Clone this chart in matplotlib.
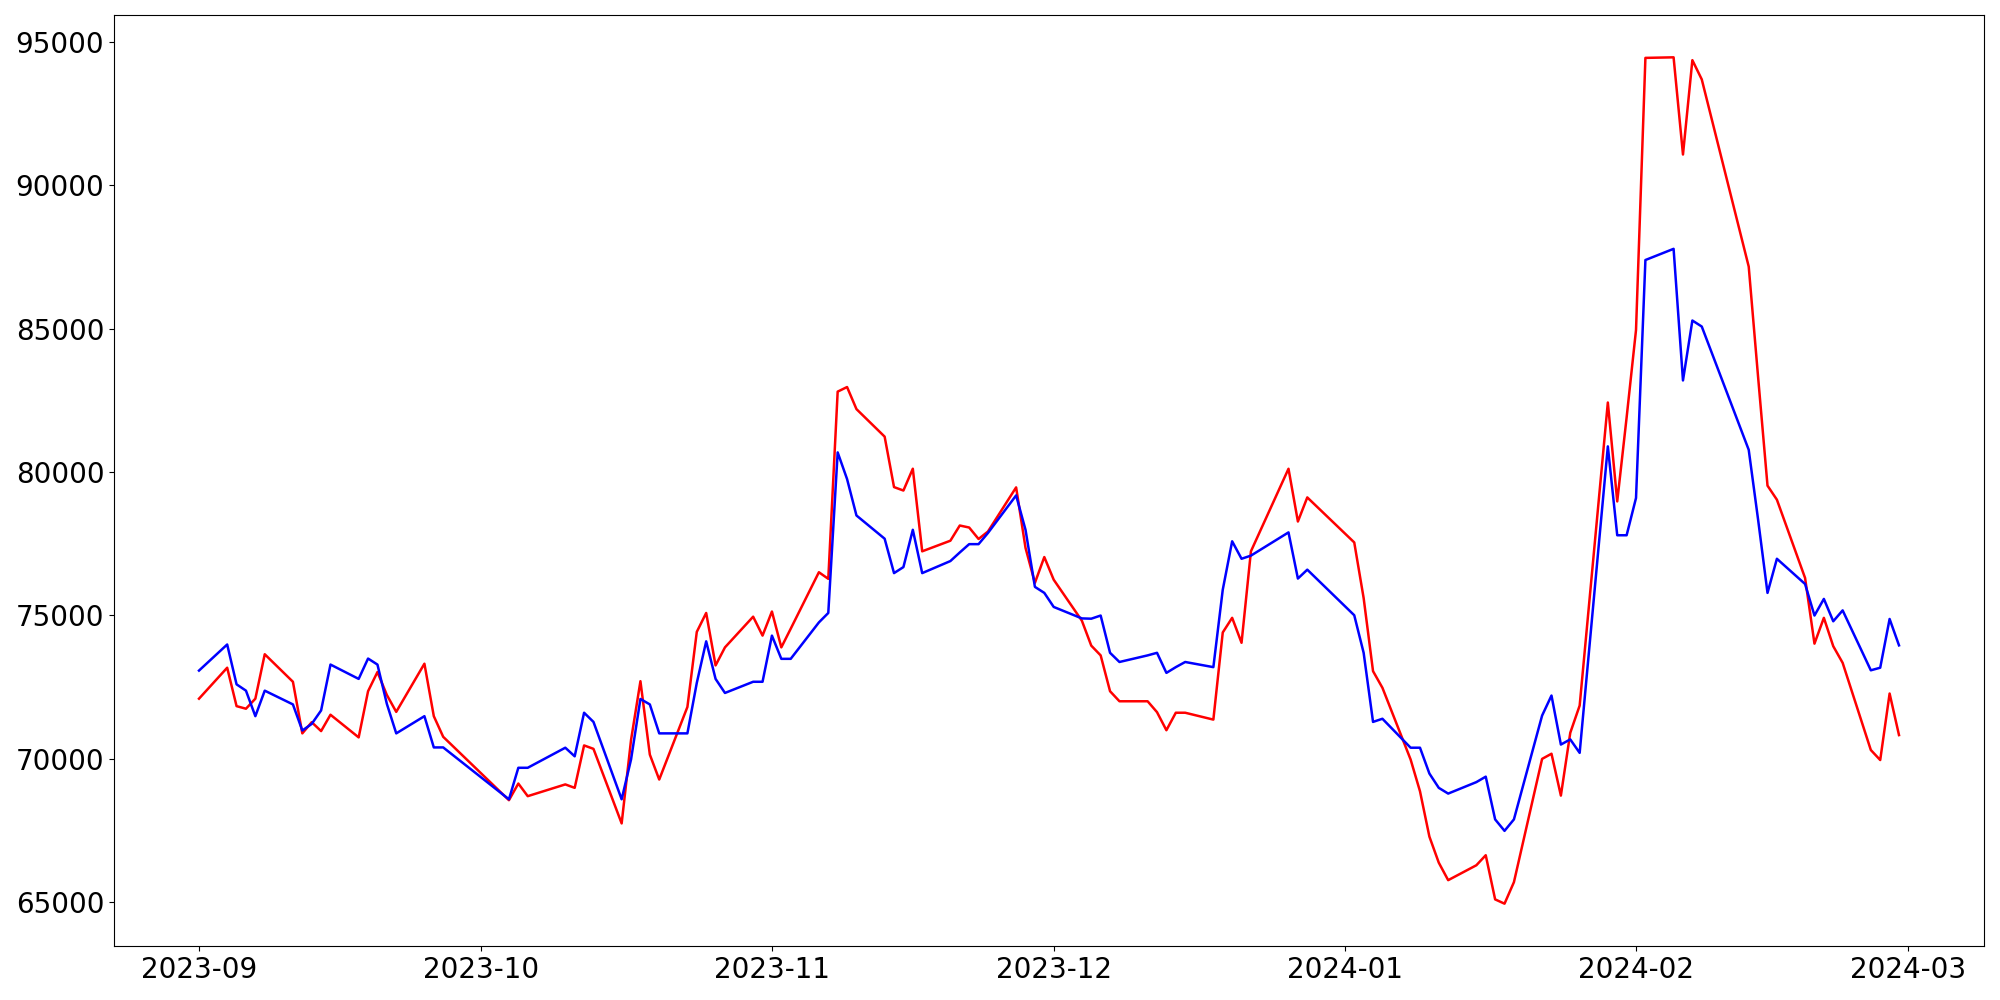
import matplotlib
matplotlib.use("Agg")
import matplotlib.pyplot as plt
import pandas as pd

# trading calendar (weekdays minus market holidays)
START = "2023-09-01"
END = "2024-02-29"
HOLIDAYS = [
    "2023-09-28", "2023-09-29", "2023-10-02", "2023-10-03", "2023-10-09",
    "2023-12-25", "2023-12-29", "2024-01-01", "2024-02-09", "2024-02-12",
]

# red series, one value per trading day
red_values = [
    # Sep
    72090, 73170, 71830, 71740, 72090, 73640, 72680, 70880, 71270, 70960,
    71530, 70740, 72350, 73020, 72220, 71630, 73310, 71480, 70760,
    # Oct
    68550, 69130, 68690, 69100, 68980, 70460, 70340, 67740, 70650, 72700,
    70140, 69270, 71800, 74420, 75080, 73250, 73880, 74950, 74290,
    # Nov
    75130, 73880, 74530, 76500, 76270, 82800, 82960, 82190, 81230, 79470,
    79350, 80110, 77230, 77600, 78130, 78060, 77660, 77920, 79460, 77350,
    76130, 77030,
    # Dec
    76240, 74810, 73940, 73600, 72350, 72000, 72000, 71620, 70990, 71600,
    71600, 71360, 74400, 74910, 74040, 77230, 80110, 78270, 79110,
    # Jan
    77540, 75600, 73050, 72470, 69970, 68860, 67280, 66370, 65760, 66280,
    66630, 65090, 64940, 65690, 69990, 70170, 68710, 70900, 71850, 82420,
    78970, 81900,
    # Feb
    84950, 94440, 94460, 91070, 94360, 93690, 87160, 83300, 79520, 79030,
    76300, 74010, 74910, 73920, 73340, 70300, 69950, 72270, 70820,
]

# blue series
blue_values = [
    # Sep
    73070, 73980, 72590, 72370, 71480, 72370, 71890, 70980, 71210, 71680,
    73280, 72780, 73490, 73280, 71910, 70880, 71480, 70390, 70390,
    # Oct
    68580, 69680, 69680, 70380, 70080, 71600, 71280, 68580, 69970, 72080,
    71890, 70880, 70880, 72640, 74090, 72780, 72290, 72680, 72680,
    # Nov
    74290, 73480, 73480, 74750, 75080, 80680, 79750, 78480, 77670, 76470,
    76680, 77980, 76470, 76890, 77190, 77480, 77480, 77870, 79180, 77980,
    75990, 75780,
    # Dec
    75290, 74890, 74880, 74990, 73690, 73370, 73600, 73690, 72990, 73190,
    73370, 73190, 75890, 77580, 76970, 77080, 77890, 76280, 76590,
    # Jan
    75000, 73690, 71280, 71390, 70380, 70380, 69480, 68980, 68780, 69180,
    69370, 67880, 67480, 67880, 71500, 72200, 70490, 70670, 70200, 80890,
    77790, 77790,
    # Feb
    79090, 87390, 87780, 83190, 85280, 85070, 80770, 78330, 75780, 76970,
    76090, 74990, 75570, 74790, 75170, 73080, 73170, 74870, 73950,
]

dates = pd.bdate_range(START, END, freq="C", holidays=HOLIDAYS)
assert len(dates) == len(red_values) == len(blue_values), (len(dates), len(red_values), len(blue_values))

fig, ax = plt.subplots(figsize=(20, 10), dpi=100)
ax.plot(dates, red_values, color="red", linewidth=1.8)
ax.plot(dates, blue_values, color="blue", linewidth=1.8)

ax.tick_params(axis="both", labelsize=20)
fig.subplots_adjust(left=0.057, right=0.992, bottom=0.054, top=0.985)
fig.savefig("out.png", dpi=100)
